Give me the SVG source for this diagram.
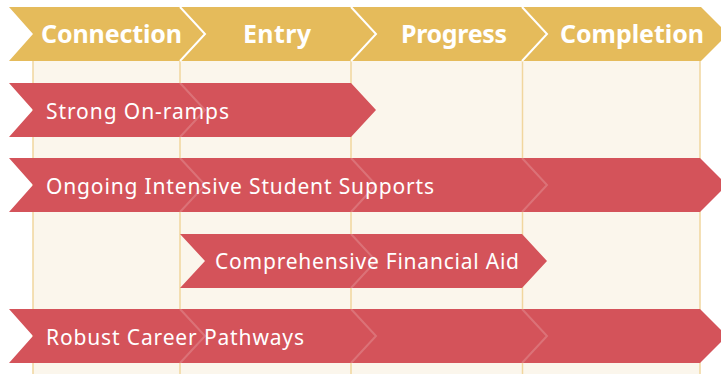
<svg xmlns="http://www.w3.org/2000/svg" width="721" height="374" viewBox="0 0 721 374">
<style>
.stage{fill:#e5bb5b}
.sep{fill:none;stroke:#ffffff;stroke-width:2}
.bar{fill:#d4535a}
.faint{fill:none;stroke:#ffffff;stroke-opacity:0.18;stroke-width:2}
.grid{stroke:#f1d69e;stroke-width:1.5}
.ht{font-family:"Noto Sans","Open Sans",sans-serif;font-weight:700;font-size:25px;fill:#ffffff}
.bt{font-family:"Noto Sans","Open Sans",sans-serif;font-weight:400;font-size:21px;fill:#ffffff}
</style>
<rect width="721" height="374" fill="#ffffff"/>
<g id="grid">
<rect x="33" y="61" width="667" height="313" fill="#fbf6ec"/>
<line class="grid" x1="33" y1="61" x2="33" y2="374"/>
<line class="grid" x1="180" y1="61" x2="180" y2="374"/>
<line class="grid" x1="351" y1="61" x2="351" y2="374"/>
<line class="grid" x1="522.5" y1="61" x2="522.5" y2="374"/>
<line class="grid" x1="700" y1="61" x2="700" y2="374"/>
</g>
<g id="stage-connection">
<polygon class="stage" points="9,7 180,7 205,34 180,61 9,61 33,34"/>
<text class="ht" x="41" y="43" textLength="141">Connection</text>
</g>
<g id="stage-entry">
<polygon class="stage" points="180,7 351,7 376,34 351,61 180,61 205,34"/>
<polyline class="sep" points="180,7 205,34 180,61"/>
<text class="ht" x="243" y="43" textLength="68">Entry</text>
</g>
<g id="stage-progress">
<polygon class="stage" points="351,7 522,7 547,34 522,61 351,61 376,34"/>
<polyline class="sep" points="351,7 376,34 351,61"/>
<text class="ht" x="401" y="43" textLength="106">Progress</text>
</g>
<g id="stage-completion">
<polygon class="stage" points="522,7 701,7 728,34 701,61 522,61 547,34"/>
<polyline class="sep" points="522,7 547,34 522,61"/>
<text class="ht" x="560" y="43" textLength="144">Completion</text>
</g>
<g id="connectors"></g>
<g id="bar-onramps">
<polygon class="bar" points="9,83 351,83 376,110 351,137 9,137 33,110"/>
<polyline class="faint" points="180,83 205,110 180,137"/>
<text class="bt" x="46" y="118.5" textLength="183">Strong On-ramps</text>
</g>
<g id="bar-supports">
<polygon class="bar" points="9,158 700,158 727,185 700,212 9,212 33,185"/>
<polyline class="faint" points="180,158 205,185 180,212"/>
<polyline class="faint" points="351,158 376,185 351,212"/>
<polyline class="faint" points="522,158 547,185 522,212"/>
<text class="bt" x="46" y="193.5" textLength="388">Ongoing Intensive Student Supports</text>
</g>
<g id="bar-aid">
<polygon class="bar" points="180,234 522,234 547,261 522,288 180,288 205,261"/>
<polyline class="faint" points="351,234 376,261 351,288"/>
<text class="bt" x="215" y="269" textLength="304">Comprehensive Financial Aid</text>
</g>
<g id="bar-pathways">
<polygon class="bar" points="9,309 700,309 727,336 700,363 9,363 33,336"/>
<polyline class="faint" points="180,309 205,336 180,363"/>
<polyline class="faint" points="351,309 376,336 351,363"/>
<polyline class="faint" points="522,309 547,336 522,363"/>
<text class="bt" x="46" y="344.5" textLength="258">Robust Career Pathways</text>
</g>
</svg>
